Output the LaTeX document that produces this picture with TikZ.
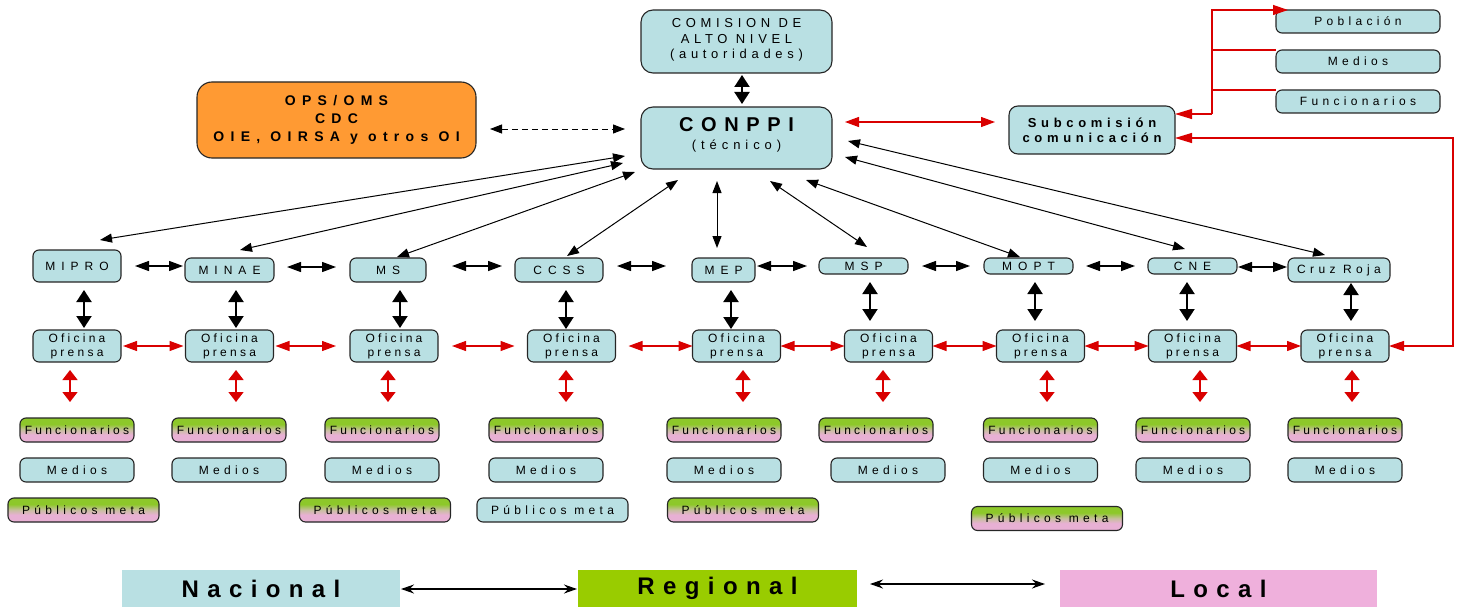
\documentclass[tikz,border=0pt]{standalone}
\usepackage{fontspec}
\setmainfont{Liberation Sans}
\newfontfamily\fa[LetterSpace=27]{Liberation Sans}
\newfontfamily\fb[LetterSpace=36]{Liberation Sans}
\newfontfamily\fc[LetterSpace=50]{Liberation Sans}
\newfontfamily\fd[LetterSpace=38]{Liberation Sans}
\newfontfamily\fe[LetterSpace=45]{Liberation Sans}
\newfontfamily\fl[LetterSpace=35]{Liberation Sans}
\usetikzlibrary{arrows.meta}
\definecolor{lb}{HTML}{B9E0E3}
\definecolor{orng}{HTML}{FF9A33}
\definecolor{rd}{HTML}{D90000}
\definecolor{gtop}{HTML}{8DC82A}
\definecolor{gmid}{HTML}{C8BFA0}
\definecolor{gbot}{HTML}{E8B0D4}
\definecolor{lgreen}{HTML}{99CC00}
\definecolor{lpink}{HTML}{EFB0DC}
\pgfdeclareverticalshading{gp}{100bp}{color(0bp)=(gbot); color(25bp)=(gbot); color(40bp)=(gbot); color(50bp)=(gmid); color(62bp)=(gtop); color(75bp)=(gtop); color(100bp)=(gtop)}
\tikzset{
  bx/.style={draw=black!85, line width=1.1pt, rounded corners=6pt, fill=lb, inner sep=0pt, outer sep=0pt, align=center, text=black},
  orgbox/.style={bx, minimum width=89pt, minimum height=24pt, font=\fc\fontsize{12}{14}\selectfont},
  ofbox/.style={bx, minimum width=88pt, minimum height=32pt, font=\fa\fontsize{12}{14}\selectfont},
  funbox/.style={bx, shading=gp, minimum width=114pt, minimum height=24pt, font=\fa\fontsize{12}{14}\selectfont},
  medbox/.style={bx, minimum width=114pt, minimum height=24pt, font=\fb\fontsize{12}{14}\selectfont},
  pubbox/.style={bx, shading=gp, minimum width=151pt, minimum height=24pt, font=\fb\fontsize{12}{14}\selectfont},
  legbox/.style={inner sep=0pt, outer sep=0pt, minimum height=37pt, font=\fl\bfseries\fontsize{24}{28}\selectfont},
  bv/.style={line width=2pt, {Triangle[length=12pt,width=15pt]}-{Triangle[length=12pt,width=15pt]}},
  bh/.style={line width=1.3pt, {Triangle[length=14pt,width=10pt]}-{Triangle[length=14pt,width=10pt]}},
  bd/.style={line width=1pt, {Triangle[length=12pt,width=9pt]}-{Triangle[length=12pt,width=9pt]}},
  rh/.style={draw=rd, line width=1.2pt, {Triangle[length=14pt,width=10pt]}-{Triangle[length=14pt,width=10pt]}},
  rv/.style={draw=rd, line width=1.5pt, {Triangle[length=10pt,width=15pt]}-{Triangle[length=10pt,width=15pt]}},
  rl/.style={draw=rd, line width=1.2pt},
  la/.style={line width=1.2pt, {Stealth[length=13pt,width=9pt]}-{Stealth[length=13pt,width=9pt]}}
}
\begin{document}
\begin{tikzpicture}[x=1pt,y=-1pt]
\useasboundingbox (0,0) rectangle (1463,607);

% ---------- top ----------
\node[bx, rounded corners=12pt, minimum width=191pt, minimum height=63pt] (com) at (736.5,41.5)
  {\raisebox{22pt}{\parbox[c]{185pt}{\centering\fb\fontsize{13}{15.5}\selectfont COMISION DE\\ ALTO NIVEL\\ (autoridades)}}};
\node[bx, rounded corners=12pt, minimum width=191pt, minimum height=62pt] (conppi) at (736.5,138)
  {\raisebox{21pt}{\parbox[c]{185pt}{\centering\fd\bfseries\fontsize{20}{18}\selectfont CONPPI\\ \mdseries\fontsize{13}{18}\selectfont (técnico)}}};
\node[bx, fill=orng, rounded corners=15pt, minimum width=279pt, minimum height=76pt] (ops) at (336.5,120)
  {\parbox[c]{275pt}{\centering\fe\bfseries\fontsize{14}{18}\selectfont OPS/OMS\\ CDC\\ OIE, OIRSA y otros OI}};
\node[bx, rounded corners=9pt, minimum width=166pt, minimum height=48pt] (sub) at (1092,130)
  {\parbox[c]{160pt}{\centering\fb\bfseries\fontsize{13}{15}\selectfont Subcomisión\\ comunicación}};
\node[medbox, minimum width=164pt, minimum height=23pt] (pob) at (1358,21.5) {Población};
\node[medbox, minimum width=164pt, minimum height=23pt] (med0) at (1358,61.5) {Medios};
\node[medbox, minimum width=164pt, minimum height=23pt] (fun0) at (1358,101.5) {Funcionarios};

% ---------- organisations ----------
\node[orgbox, minimum width=88pt, minimum height=32pt] (mipro) at (77,266) {MIPRO};
\node[orgbox] (minae) at (229.5,270) {MINAE};
\node[orgbox, minimum width=76pt] (ms) at (388,270) {MS};
\node[orgbox, minimum width=88pt] (ccss) at (559,270) {CCSS};
\node[orgbox, minimum width=63pt] (mep) at (723.5,270) {MEP};
\node[orgbox, minimum height=16pt] (msp) at (863.5,266) {MSP};
\node[orgbox, minimum height=16pt] (mopt) at (1028.5,266) {MOPT};
\node[orgbox, minimum height=16pt] (cne) at (1192.5,266) {CNE};
\node[orgbox, minimum width=102pt, font=\fb\fontsize{12}{14}\selectfont] (cruz) at (1339,270) {Cruz Roja};

% ---------- oficinas ----------
\foreach \n/\x in {1/77,2/229.5,3/394,4/571.5,5/736.5,6/888.5,7/1040.5,8/1192.5,9/1345}
  \node[ofbox] (of\n) at (\x,346) {Oficina\\prensa};

% ---------- bottom boxes ----------
\foreach \n/\x in {1/77,2/229,3/382,4/546,5/724,6/876,7/1040.5,8/1193,9/1345}
  \node[funbox] (fu\n) at (\x,430) {Funcionarios};
\foreach \n/\x in {1/77,2/229,3/382,4/546,5/724,6/888,7/1040.5,8/1193,9/1345}
  \node[medbox] (me\n) at (\x,470) {Medios};
\node[pubbox] (pu1) at (83.5,510) {Públicos\ meta};
\node[pubbox] (pu3) at (375,510) {Públicos\ meta};
\node[medbox, minimum width=151pt] (pu4) at (552.5,510) {Públicos meta};
\node[pubbox] (pu5) at (743,510) {Públicos\ meta};
\node[pubbox] (pu7) at (1047,518.5) {Públicos\ meta};

% ---------- legend ----------
\node[legbox, fill=lb, minimum width=278pt] (nac) at (261,588.5) {Nacional};
\node[legbox, fill=lgreen, minimum width=279pt] (reg) at (717.5,588.5) {Regional};
\node[legbox, fill=lpink, minimum width=317pt] (loc) at (1218.5,588.5) {Local};
\draw[la, shorten <=1pt, shorten >=1pt] (nac.east |- 0,589) -- (reg.west |- 0,589);
\draw[la, shorten <=13pt, shorten >=15pt] (reg.east |- 0,584) -- (loc.west |- 0,584);

% ---------- top connectors ----------
\draw[bv, shorten <=2pt, shorten >=3pt] (com.south -| 742,0) -- (conppi.north -| 742,0);
\draw[bd, dash pattern=on 6pt off 4pt, shorten <=14pt, shorten >=16pt] (ops.east |- 0,129) -- (conppi.west |- 0,129);
\draw[rh, shorten <=13pt, shorten >=14pt] (conppi.east |- 0,122) -- (sub.west |- 0,122);

\coordinate (vt) at (1212,10);
\coordinate (vb) at (1212,114);
\draw[rl, -{Triangle[length=15pt,width=10pt]}, shorten >=-12pt] (vb) -- (vt) -- (pob.north west);
\draw[rl] (vt |- med0.north west) -- (med0.north west);
\draw[rl] (vt |- fun0.north west) -- (fun0.north west);
\draw[rl, -{Triangle[length=17pt,width=10pt]}] (vb) -- (vb -| sub.east);
\coordinate (rc) at (1453,138);
\draw[rl, {Triangle[length=17pt,width=10pt]}-{Triangle[length=15pt,width=10pt]}] (rc -| sub.east) -- (rc) |- (of9.east);

% ---------- CONPPI to organisations ----------
\draw[bd] ([shift={(23,-10)}]mipro.north) -- ([shift={(-111.5,18)}]conppi.center);
\draw[bd] ([shift={(10.5,-8)}]minae.north) -- ([shift={(-113.5,25)}]conppi.center);
\draw[bd] ([shift={(9,-1)}]ms.north) -- ([shift={(-101.5,34)}]conppi.center);
\draw[bd] ([shift={(8,-2)}]ccss.north) -- ([shift={(-58.5,42)}]conppi.center);
\draw[bd] ([shift={(-6.5,-10)}]mep.north) -- ([shift={(-19.5,43)}]conppi.center);
\draw[bd] ([shift={(3.5,-11)}]msp.north) -- ([shift={(33.5,43)}]conppi.center);
\draw[bd] ([shift={(-8.5,-1)}]mopt.north) -- ([shift={(69.5,42)}]conppi.center);
\draw[bd] ([shift={(-7.5,-9)}]cne.north) -- ([shift={(108.5,19)}]conppi.center);
\draw[bd] ([shift={(-14,-3)}]cruz.north) -- ([shift={(111.5,3)}]conppi.center);

% ---------- horizontal black between organisations ----------
\draw[bh, shorten <=14pt, shorten >=2pt] (mipro.east |- 0,266) -- (minae.west |- 0,266);
\draw[bh, shorten <=13pt, shorten >=14pt] (minae.east |- 0,267) -- (ms.west |- 0,267);
\draw[bh, shorten <=26pt, shorten >=13pt] (ms.east |- 0,266) -- (ccss.west |- 0,266);
\draw[bh, shorten <=14pt, shorten >=26pt] (ccss.east |- 0,266) -- (mep.west |- 0,266);
\draw[bh, shorten <=2pt, shorten >=12pt] (mep.east |- 0,266) -- (msp.west |- 0,266);
\draw[bh, shorten <=14pt, shorten >=14pt] (msp.east |- 0,266) -- (mopt.west |- 0,266);
\draw[bh, shorten <=13pt, shorten >=13pt] (mopt.east |- 0,266) -- (cne.west |- 0,266);
\draw[bh, shorten <=1pt, shorten >=1pt] (cne.east |- 0,267) -- (cruz.west |- 0,267);

% ---------- vertical black organisation to oficina ----------
\draw[bv, shorten <=8pt, shorten >=2pt] (mipro.south -| 84,0) -- (of1.north -| 84,0);
\draw[bv, shorten <=8pt, shorten >=2pt] (minae.south -| 236,0) -- (of2.north -| 236,0);
\draw[bv, shorten <=8pt, shorten >=2pt] (ms.south -| 400,0) -- (of3.north -| 400,0);
\draw[bv, shorten <=8pt, shorten >=1pt] (ccss.south -| 566,0) -- (of4.north -| 566,0);
\draw[bv, shorten <=8pt, shorten >=1pt] (mep.south -| 731,0) -- (of5.north -| 731,0);
\draw[bv, shorten <=8pt, shorten >=9pt] (msp.south -| 870,0) -- (of6.north -| 870,0);
\draw[bv, shorten <=8pt, shorten >=9pt] (mopt.south -| 1035,0) -- (of7.north -| 1035,0);
\draw[bv, shorten <=8pt, shorten >=9pt] (cne.south -| 1187,0) -- (of8.north -| 1187,0);
\draw[bv, shorten <=1pt, shorten >=9pt] (cruz.south -| 1351,0) -- (of9.north -| 1351,0);

% ---------- red between oficinas ----------
\draw[rh, shorten <=2pt, shorten >=2pt] (of1.east) -- (of2.west);
\draw[rh, shorten <=2pt, shorten >=14pt] (of2.east) -- (of3.west);
\draw[rh, shorten <=14pt, shorten >=13pt] (of3.east) -- (of4.west);
\draw[rh, shorten <=13pt] (of4.east) -- (of5.west);
\draw[rh] (of5.east) -- (of6.west);
\draw[rh] (of6.east) -- (of7.west);
\draw[rh] (of7.east) -- (of8.west);
\draw[rh] (of8.east) -- (of9.west);

% ---------- red oficina to publics ----------
\foreach \n/\x in {1/70,2/236,3/388,4/566,5/743,6/883,7/1047,8/1200,9/1352}
  \draw[rv, shorten <=8pt, shorten >=16pt] (of\n.south -| \x,0) -- (fu\n.north -| \x,0);
\end{tikzpicture}
\end{document}
